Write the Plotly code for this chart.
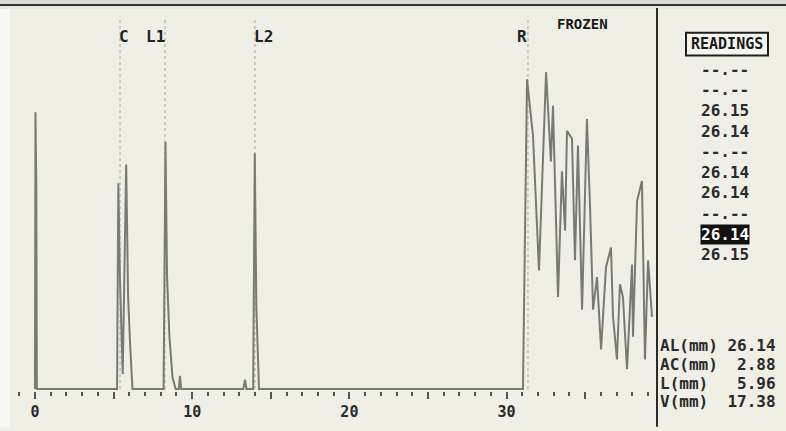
import plotly.graph_objects as go

# ---------------- data (x in axis units, amplitude in %) ----------------
SIG_X = [0.00, 0.03, 0.08, 0.12,
         5.22, 5.30, 5.40, 5.58, 5.80, 5.92, 6.05, 6.20,
         8.18, 8.30, 8.40, 8.55, 8.75, 8.95, 9.15, 9.22, 9.30,
         13.25, 13.36, 13.45, 13.88, 13.98, 14.08, 14.25,
         31.04, 31.30, 31.68, 32.06, 32.51, 32.82, 32.95, 33.27, 33.52, 33.72,
         33.84, 34.16, 34.35, 34.54, 34.80, 35.11, 35.31, 35.50, 35.75, 36.01,
         36.32, 36.64, 36.77, 37.02, 37.21, 37.40, 37.66, 37.98, 38.04, 38.30,
         38.61, 38.80, 39.00, 39.25]
SIG_Y = [0, 74, 55, 0,
         0, 55, 30, 4, 60, 25, 12, 0,
         0, 66, 30, 14, 3, 0, 0, 3.5, 0,
         0, 2.5, 0, 0, 63, 22, 0,
         0, 82.8, 67.7, 31.7, 84.7, 60.8, 75.7, 24.6, 58.2, 42.3,
         69.0, 66.9, 34.4, 65.1, 21.2, 72.2, 48.4, 21.2, 29.9, 10.6,
         32.5, 37.8, 19.3, 7.9, 28.0, 24.6, 5.3, 33.3, 14.0, 50.3,
         55.6, 7.9, 34.4, 19.3]

GATE_POS = [5.41, 8.27, 13.99, 31.36]
GATE_LABELS = ["C", "L1", "L2", "R"]
GATE_TOP = 99.5

TICK_MAJOR = [0, 5, 10, 15, 20, 25, 30, 35]
TICK_TEXT = ["0", "", "10", "", "20", "", "30", ""]

READINGS = ["--.--", "--.--", "26.15", "26.14", "--.--",
            "26.14", "26.14", "--.--", "26.14", "26.15"]
SELECTED = 8
SUMMARY_LABELS = ["AL(mm)", "AC(mm)", "L(mm)", "V(mm)"]
SUMMARY_VALUES = ["26.14", "2.88", "5.96", "17.38"]

# ---------------- layout geometry ----------------
W, H = 786, 431
L, R, T, B = 12, 131, 10, 36
X_RANGE = [-1.463, 39.44]
Y_RANGE = [-0.53, 101.32]

BG = "#f0efe6"
TRACE = "#7a7a75"
DARK = "#222222"
FONT = "DejaVu Sans Mono"


def pxx(px):
    return (px - L) / (W - L - R)


def pyy(py):
    return (H - B - py) / (H - T - B)


def txt(x, y, text, size, color, xanchor="center", **kw):
    return dict(x=pxx(x), y=pyy(y), xref="paper", yref="paper", text=text,
                showarrow=False, xanchor=xanchor, yanchor="middle",
                font=dict(family=FONT, size=size, color=color), **kw)


fig = go.Figure()

# gate dotted lines
for g in GATE_POS:
    fig.add_trace(go.Scatter(x=[g, g], y=[0, GATE_TOP], mode="lines",
                             line=dict(color="#a3a39e", width=1, dash="dot"),
                             hoverinfo="skip", showlegend=False))

# A-scan signal
fig.add_trace(go.Scatter(x=SIG_X, y=SIG_Y, mode="lines",
                         line=dict(color=TRACE, width=2),
                         hoverinfo="skip", showlegend=False))

annotations = []
label_shift = [4, -10, 9, -6]
for g, lab, sh in zip(GATE_POS, GATE_LABELS, label_shift):
    annotations.append(dict(x=g, y=94.2, xref="x", yref="y", text=f"<b>{lab}</b>",
                            showarrow=False, xshift=sh, xanchor="center", yanchor="middle",
                            font=dict(family=FONT, size=16, color=DARK)))

annotations.append(txt(582, 24, "<b>FROZEN</b>", 14, "#1a1a1a"))
annotations.append(txt(727, 44, "<b>READINGS</b>", 15, "#1a1a1a"))

for i, r in enumerate(READINGS):
    sel = (i == SELECTED)
    extra = dict(bgcolor="#111111", borderpad=0) if sel else {}
    annotations.append(txt(725, 70 + i * 20.8, f"<b>{r}</b>", 16,
                           "#ffffff" if sel else "#2a2a2a", **extra))

for i, (lab, val) in enumerate(zip(SUMMARY_LABELS, SUMMARY_VALUES)):
    annotations.append(txt(778, 349 + i * 19,
                           f"<b>{lab:<6}{val:>6}</b>".replace(" ", "&nbsp;"),
                           16, "#2a2a2a", xanchor="right"))

shapes = [
    # left light strip
    dict(type="rect", xref="paper", yref="paper", x0=pxx(0), x1=pxx(10), y0=pyy(431), y1=pyy(0),
         fillcolor="#f7f7f4", line=dict(width=0), layer="below"),
    # top bands
    dict(type="rect", xref="paper", yref="paper", x0=pxx(0), x1=pxx(786), y0=pyy(4), y1=pyy(0),
         fillcolor="#d9d9d5", line=dict(width=0)),
    dict(type="rect", xref="paper", yref="paper", x0=pxx(0), x1=pxx(786), y0=pyy(6), y1=pyy(4),
         fillcolor="#333333", line=dict(width=0)),
    dict(type="rect", xref="paper", yref="paper", x0=pxx(0), x1=pxx(786), y0=pyy(9), y1=pyy(6),
         fillcolor="#e6e6e2", line=dict(width=0)),
    # divider
    dict(type="line", xref="paper", yref="paper", x0=pxx(657), x1=pxx(657), y0=pyy(431), y1=pyy(8),
         line=dict(color="#2b2b2b", width=2)),
    # READINGS box
    dict(type="rect", xref="paper", yref="paper", x0=pxx(686), x1=pxx(768), y0=pyy(56), y1=pyy(33),
         fillcolor="#f6f6f1", line=dict(color="#1e1e1e", width=2), layer="below"),
]

fig.update_layout(
    width=W, height=H,
    margin=dict(l=L, r=R, t=T, b=B),
    paper_bgcolor=BG, plot_bgcolor=BG,
    showlegend=False,
    annotations=annotations,
    shapes=shapes,
    xaxis=dict(range=X_RANGE, showgrid=False, zeroline=False, showline=False,
               tickmode="array", tickvals=TICK_MAJOR, ticktext=TICK_TEXT,
               ticks="outside", ticklen=7, tickwidth=2, tickcolor="#555555",
               minor=dict(dtick=1, tick0=0, ticks="outside", ticklen=4, tickwidth=2,
                          tickcolor="#555555", showgrid=False),
               tickfont=dict(family=FONT, size=15, color="#2a2a2a", weight="bold"),
               fixedrange=True),
    yaxis=dict(range=Y_RANGE, showgrid=False, zeroline=False, showline=False,
               showticklabels=False, ticks="", fixedrange=True),
)

fig.write_html("out.html",
               config={"displayModeBar": False, "staticPlot": True},
               post_script="document.body.style.margin='0';document.body.style.overflow='hidden';")
